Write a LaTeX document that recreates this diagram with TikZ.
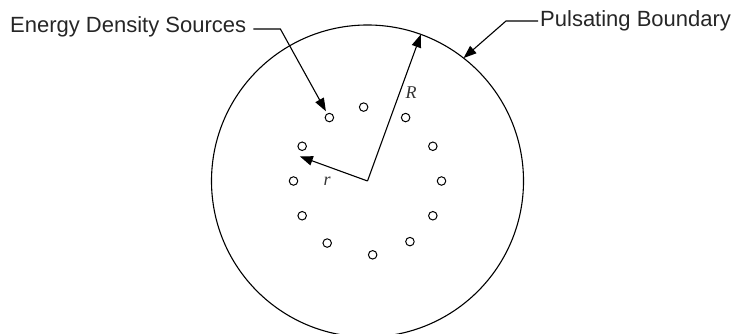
\documentclass[tikz,border=0pt]{standalone}
\usepackage{fontspec}
\setmainfont{Liberation Serif}
\setsansfont{Liberation Sans}
\usetikzlibrary{arrows.meta, calc}

\begin{document}
\begin{tikzpicture}[
  x=1pt, y=1pt,
  boundary/.style={circle, draw=black, line width=1.1pt, inner sep=0pt, outer sep=0pt, minimum size=312pt},
  src/.style={circle, draw=black, line width=1pt, inner sep=0pt, minimum size=8.5pt},
  arr/.style={-{Triangle[length=13pt, width=9.5pt]}, line width=1.1pt, black},
  lbl/.style={font=\sffamily\fontsize{22}{26}\selectfont, text=black!85, inner sep=0pt},
  sym/.style={font=\itshape\fontsize{18}{21}\selectfont, text=black!80, inner sep=0pt}
]
\useasboundingbox (0,0) rectangle (735,334);

% ---- BOUNDARY ----
\coordinate (ctr) at (367.5,153);
\node[boundary] (bnd) at (ctr) {};

% ---- SOURCES ----
\foreach \a [count=\i] in {0,28,59,93,121,152,180,208,237,274,305,332}
  \node[src] (src-\i) at ($(ctr)+(\a:74)$) {};

% ---- RADII ----
\coordinate (rtip) at ($(ctr)+(160:72)$);
\draw[arr] (ctr) -- (bnd.70);
\draw[arr] (ctr) -- (rtip);
\node[sym] (Rlbl) at (411,241) {R};
\node[sym] (rlbl) at (327,153) {r};

% ---- LABELS ----
\node[lbl, anchor=base west] (srclbl) at (10,301.3) {Energy Density Sources};
\draw[arr, shorten >=2.5pt] ([xshift=7pt,yshift=-2pt]srclbl.east) -- ++(27,0) -- (src-5);
\node[lbl, anchor=base west] (bndlbl) at (540,307.3) {Pulsating Boundary};
\draw[arr] ([xshift=-2pt]bndlbl.west) -- ++(-32,0) -- (bnd.52);
\end{tikzpicture}
\end{document}
